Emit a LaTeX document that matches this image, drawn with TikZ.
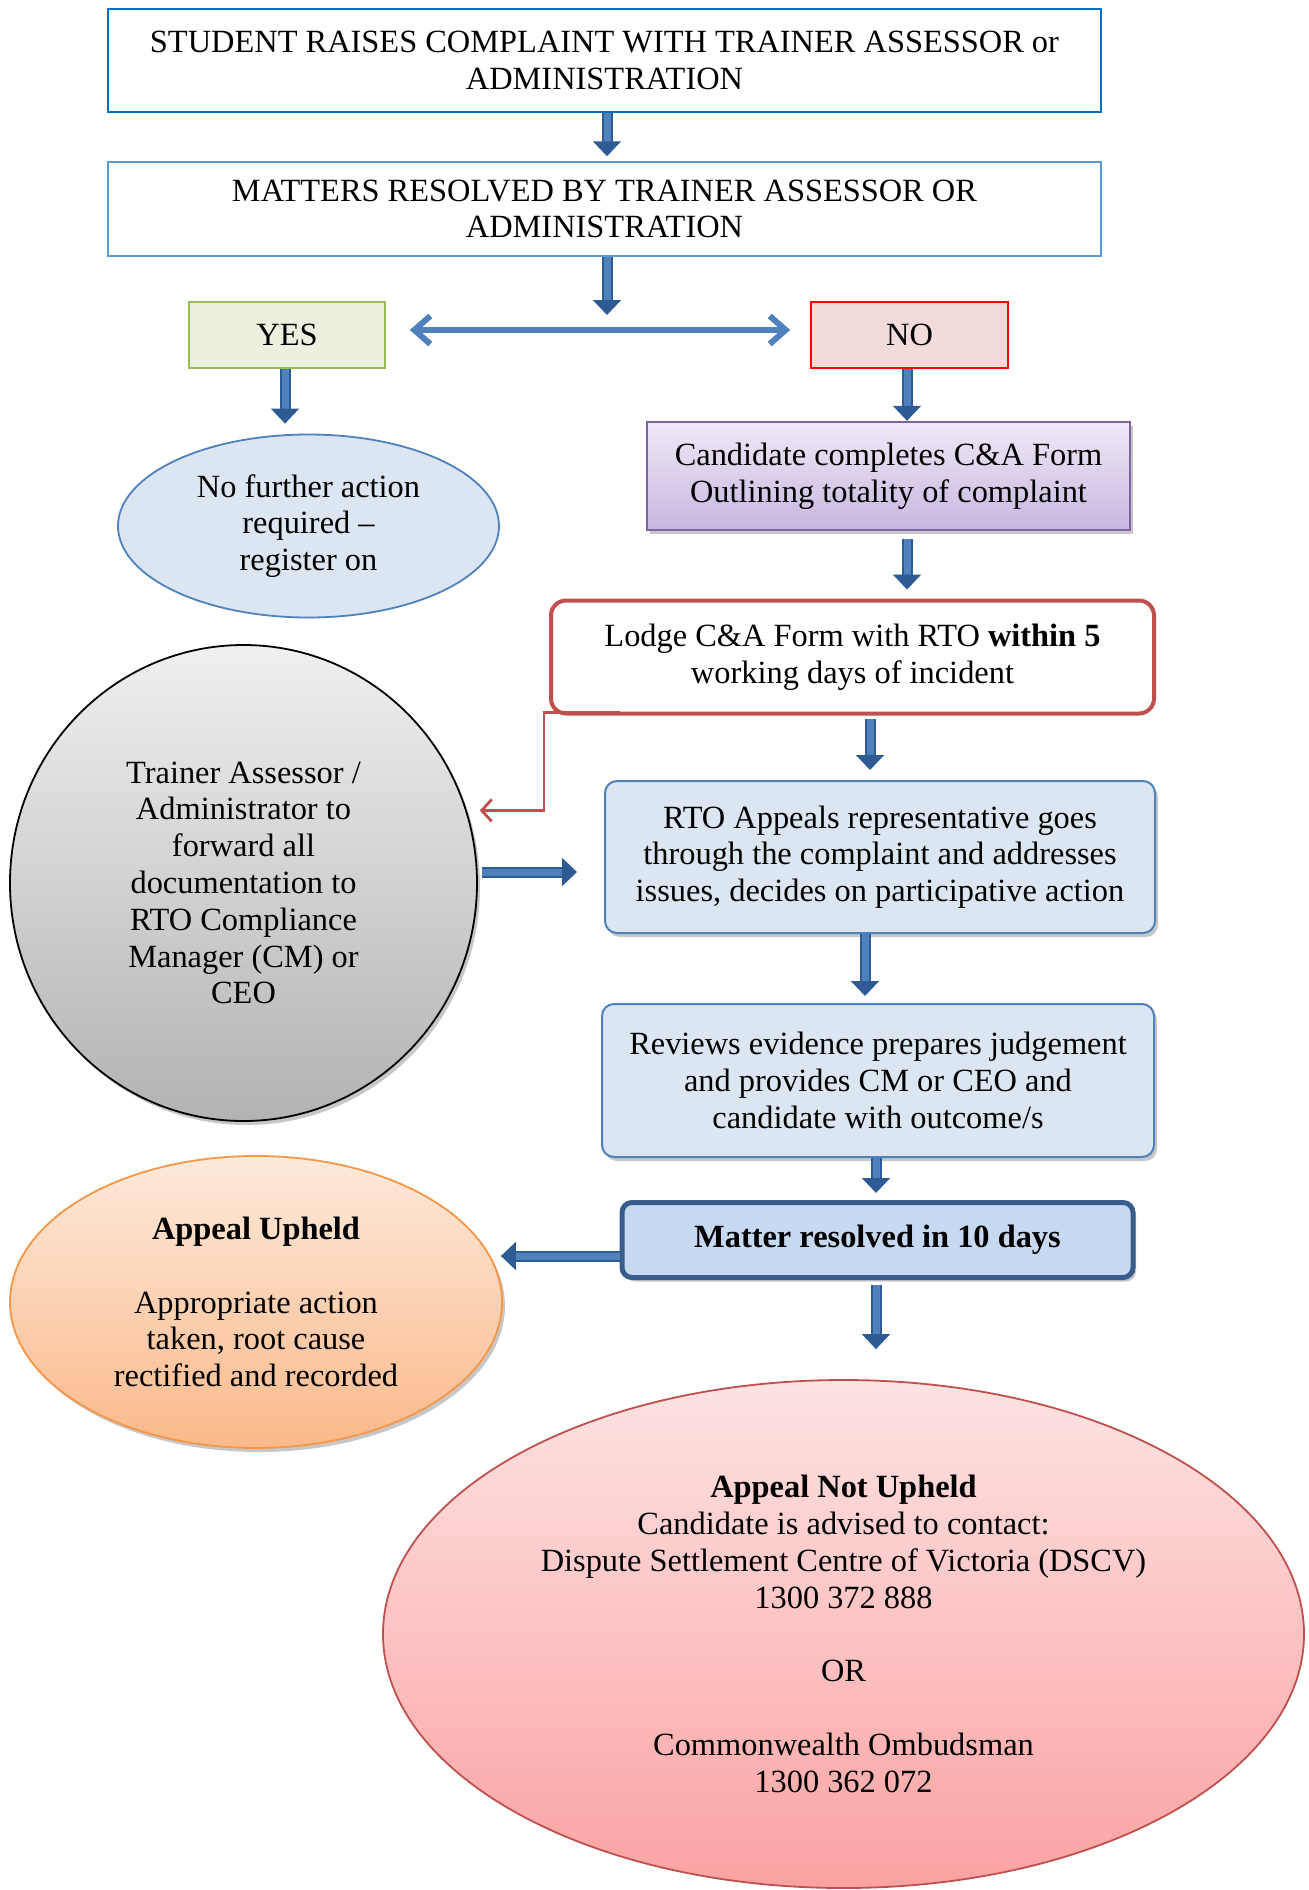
\documentclass[tikz,border=0pt]{standalone}
\usepackage{fontspec}
\setmainfont{Liberation Serif}
\usetikzlibrary{shapes.geometric,arrows.meta,shadows,calc}
\definecolor{bOne}{HTML}{0070C0}
\definecolor{bTwo}{HTML}{5B9BD5}
\definecolor{yesfill}{HTML}{EBF1DE}
\definecolor{yesdraw}{HTML}{9BBB59}
\definecolor{nofill}{HTML}{F2DCDB}
\definecolor{lblue}{HTML}{DCE6F2}
\definecolor{mblue}{HTML}{4F81BD}
\definecolor{dblue}{HTML}{385D8A}
\definecolor{arrdark}{HTML}{2F5B94}
\definecolor{arrlight}{HTML}{4F81BD}
\definecolor{purtop}{HTML}{EFE9F7}
\definecolor{purbot}{HTML}{C8B6E0}
\definecolor{purdraw}{HTML}{8064A2}
\definecolor{redline}{HTML}{C0504D}
\definecolor{mattfill}{HTML}{C6D9F1}
\definecolor{oratop}{HTML}{FDEADB}
\definecolor{orabot}{HTML}{FAB98A}
\definecolor{oradraw}{HTML}{F79646}
\definecolor{redtop}{HTML}{FDE3E3}
\definecolor{redbot}{HTML}{FBA2A2}
\begin{document}
\begin{tikzpicture}[x=0.5pt,y=-0.5pt,
  every node/.style={font=\fontsize{16.2pt}{18.4pt}\selectfont, align=center, inner sep=0pt},
  shad/.style={drop shadow={shadow xshift=1.5pt, shadow yshift=-2pt, opacity=0.22, fill=black}},
  topbox/.style={draw=bOne, line width=1.25pt, minimum width=496.5pt, minimum height=51.5pt},
  secbox/.style={draw=bTwo, line width=0.75pt, minimum width=496.5pt, minimum height=47pt},
  yesbox/.style={draw=yesdraw, fill=yesfill, line width=0.75pt, minimum width=98pt, minimum height=33pt},
  nobox/.style={draw=red, fill=nofill, line width=0.75pt, minimum width=98.5pt, minimum height=33pt},
  nfaell/.style={ellipse, draw=mblue, fill=lblue, line width=0.9pt, minimum width=190.5pt, minimum height=91.5pt},
  candbox/.style={draw=purdraw, line width=1.2pt, top color=purtop, bottom color=purbot, shad, minimum width=241.5pt, minimum height=54pt},
  lodgebox/.style={draw=redline, fill=white, line width=2pt, rounded corners=7.5pt, minimum width=301.5pt, minimum height=56.5pt},
  greyell/.style={ellipse, draw=black, line width=0.9pt, top color=black!6, bottom color=black!30, shad, minimum width=233.5pt, minimum height=238pt},
  procbox/.style={draw=mblue, fill=lblue, line width=1pt, rounded corners=6pt, shad, minimum width=275pt, minimum height=76pt},
  mattbox/.style={draw=dblue, fill=mattfill, line width=2.5pt, rounded corners=5pt, shad, minimum width=255.5pt, minimum height=37.5pt},
  upell/.style={ellipse, draw=oradraw, line width=0.9pt, top color=oratop, bottom color=orabot, shad, minimum width=246pt, minimum height=146pt},
  notell/.style={ellipse, draw=redline, line width=0.9pt, top color=redtop, bottom color=redbot, minimum width=460.5pt, minimum height=254pt},
  blockarrow/.style={draw=arrdark, line width=1pt, double=arrlight, double distance=3.5pt, -{Triangle[length=7.5pt,width=14pt]}},
  dblarrow/.style={draw=mblue, line width=3pt, {Straight Barb[length=8pt,width=14pt]}-{Straight Barb[length=8pt,width=14pt]}},
  redconn/.style={draw=redline, line width=1.4pt, -{Straight Barb[length=5pt,width=11pt]}}
]
\fill[white] (0,0) rectangle (1309,1890);
\useasboundingbox (0,0) rectangle (1309,1890);

\node[topbox] (b1) at (604.5,60.5) {STUDENT RAISES COMPLAINT WITH TRAINER ASSESSOR or\\ADMINISTRATION};
\node[secbox] (b2) at (604.5,209) {MATTERS RESOLVED BY TRAINER ASSESSOR OR\\ADMINISTRATION};
\node[yesbox] (yes) at (287,335) {YES};
\node[nobox] (no) at (909.5,335) {NO};
\coordinate (split) at (607,330);
\node[nfaell] (nfa) at (308.5,526) {No further action\\required –\\register on};
\node[candbox] (cand) at (888.5,476) {Candidate completes C\&A Form\\Outlining totality of complaint};
\node[lodgebox] (lodge) at (852.5,657) {Lodge C\&A Form with RTO \textbf{within 5}\\working days of incident};
\node[greyell] (grey) at (243.5,883) {Trainer Assessor /\\Administrator to\\forward all\\documentation to\\RTO Compliance\\Manager (CM) or\\CEO};
\node[procbox] (rto) at (880,857) {RTO Appeals representative goes\\through the complaint and addresses\\issues, decides on participative action};
\node[procbox, minimum width=276pt, minimum height=76.5pt] (rev) at (878,1080.5) {Reviews evidence prepares judgement\\and provides CM or CEO and\\candidate with outcome/s};
\node[mattbox] (matter) at (877.5,1240) {\textbf{Matter resolved in 10 days}};
\node[upell] (upheld) at (256,1302) {\textbf{Appeal Upheld}\\\mbox{}\\Appropriate action\\taken, root cause\\rectified and recorded};
\node[notell] (notup) at (843.5,1634) {\textbf{Appeal Not Upheld}\\Candidate is advised to contact:\\Dispute Settlement Centre of Victoria (DSCV)\\1300 372 888\\\mbox{}\\OR\\\mbox{}\\Commonwealth Ombudsman\\1300 362 072};

% connectors
\draw[blockarrow, shorten >=2.5pt] (b1.south -| split) -- (b2.north -| split);
\draw[blockarrow, shorten >=7.5pt] (b2.south -| split) -- (split);
\draw[dblarrow, shorten <=12pt, shorten >=10pt] (yes.east |- split) -- (no.west |- split);
\draw[blockarrow, shorten >=5pt] (yes.south -| 285,0) -- (nfa.north -| 285,0);
\draw[blockarrow] (no.south -| 907,0) -- (cand.north -| 907,0);
\draw[blockarrow, shorten <=4pt, shorten >=4.5pt] (cand.south -| 907,0) -- (lodge.north -| 907,0);
\draw[blockarrow, shorten <=1.5pt, shorten >=5pt] (lodge.south -| 870,0) -- (rto.north -| 870,0);
\draw[blockarrow, shorten >=3.5pt] (rto.south -| 865,0) -- (rev.north -| 865,0);
\draw[blockarrow, shorten >=3.5pt] (rev.south -| 876,0) -- (matter.north -| 876,0);
\draw[blockarrow, shorten <=2.5pt, shorten >=15pt] (matter.south -| 876,0) -- (notup.north -| 876,0);
\draw[blockarrow] ($(grey.east)+(4,-11)$) -- ($(rto.west)+(-27,15)$);
\draw[blockarrow] ($(matter.west)+(0,16)$) -- ($(upheld.east)+(-2,-46)$);
\draw[redconn, shorten >=6.5pt] ($(lodge.south west)+(71,-3)$) -- ++(-76,0) |- (grey.18.7);
\end{tikzpicture}
\end{document}
